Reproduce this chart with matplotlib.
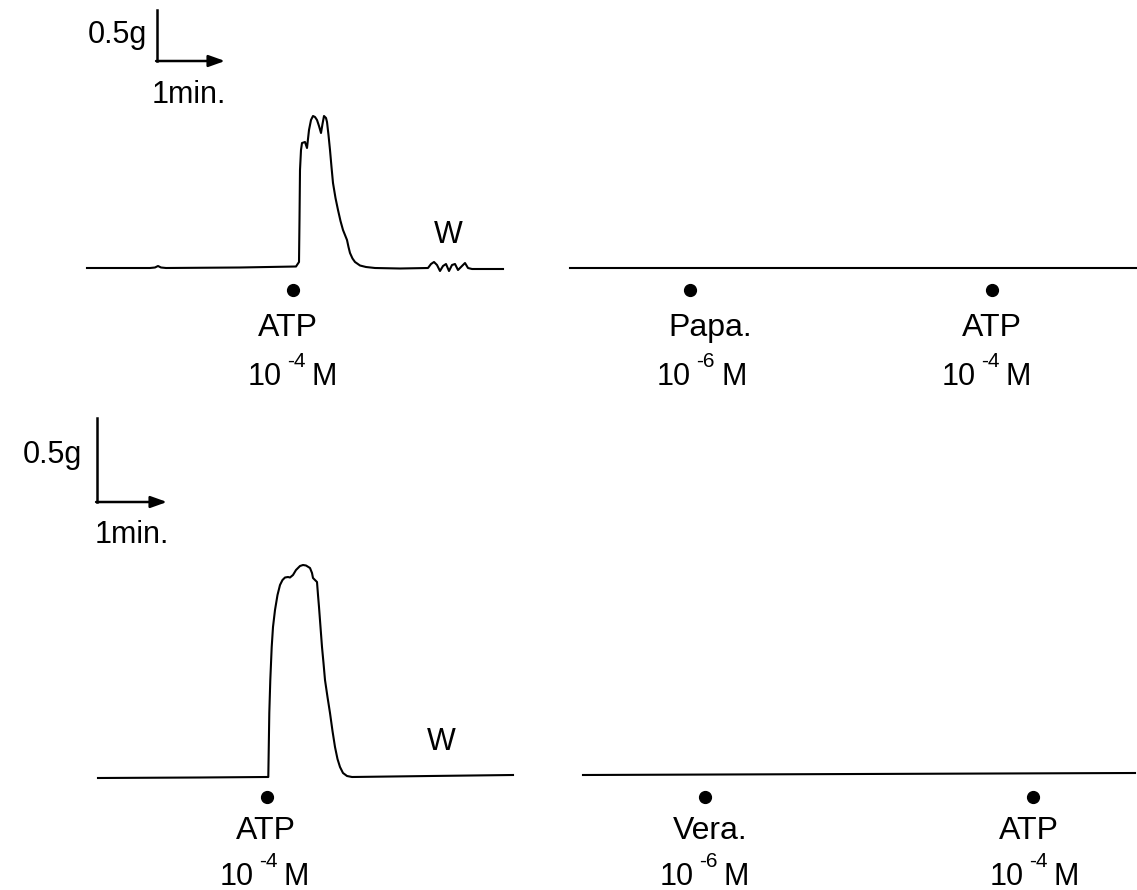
import matplotlib.pyplot as plt

plt.rcParams['font.family'] = ['Liberation Sans', 'DejaVu Sans']

# --- recorded tension traces (page units, y grows downward) ---
top_left_t = [87, 150, 155, 158, 161, 166, 240, 296, 299, 299.5,
              300, 301, 302, 305, 307, 309, 311, 313, 315, 317,
              319, 321, 322.5, 324, 326, 327, 328.5, 330, 331.5, 333,
              335.5, 338, 340.5, 343, 345, 347, 348.5, 350, 352.5, 355,
              360, 366, 375, 400, 428, 431, 434, 437, 440, 443,
              446, 449, 452, 455, 458, 462, 465, 468, 472, 503]
top_left_f = [268, 268, 267.5, 266, 267.5, 268, 267.5, 266.5, 262, 220,
              170, 150, 143, 142, 148, 130, 120, 116, 117, 120,
              126, 133, 124, 116, 118, 122, 135, 150, 167, 183,
              198, 210, 221, 230, 235, 240, 247, 253, 258.5, 262,
              265.5, 267, 268, 268.5, 268, 264, 262, 265, 271, 266,
              264, 271, 265, 264, 270, 266, 263, 268, 269, 269]

top_right_t = [570, 1137]
top_right_f = [268, 268]

bot_left_t = [98, 200, 266, 268.3, 268.8, 269.3, 270.3, 271.7, 273, 275,
              277.5, 280, 282.5, 285, 288, 290, 293, 296, 300, 303,
              306, 310, 312, 313, 317, 318, 319, 320.5, 322, 323.5,
              325, 327.5, 330, 332.5, 335, 337.5, 340, 343, 347, 352,
              430, 513]
bot_left_f = [778, 777.5, 777, 777, 745, 713, 680, 647, 627, 610,
              595, 585, 580, 577.5, 577, 577.5, 575, 570, 566, 565,
              565.5, 568, 573, 578, 582, 595, 607, 627, 647, 663,
              680, 697, 713, 731, 747, 759, 767, 773, 776, 777,
              776, 775]

bot_right_t = [583, 1135]
bot_right_f = [775, 773]

# drug additions
top_events = [293, 690, 992]
top_drugs = ['ATP', 'Papa.', 'ATP']
top_exps = ['-4', '-6', '-4']
bot_events = [267, 705, 1033]
bot_drugs = ['ATP', 'Vera.', 'ATP']
bot_exps = ['-4', '-6', '-4']

# layout
top_name_x = [288, 710, 992]
top_conc_x = [248, 657, 942]
bot_name_x = [266, 710, 1029]
bot_conc_x = [220, 660, 990]

fig = plt.figure(figsize=(11.37, 8.90), dpi=100)
ax = fig.add_axes([0, 0, 1, 1])
ax.set_xlim(0, 1137)
ax.set_ylim(890, 0)
ax.axis('off')

lw = 1.5
ax.plot(top_left_t, top_left_f, color='k', lw=lw)
ax.plot(top_right_t, top_right_f, color='k', lw=lw)
ax.plot(bot_left_t, bot_left_f, color='k', lw=lw)
ax.plot(bot_right_t, bot_right_f, color='k', lw=lw)

fs = 22


def scale_bar(x0, y0, h, w, tx_g, ty_g, tx_m, ty_m):
    ax.plot([x0, x0], [y0 - h, y0], color='k', lw=1.8)
    ax.annotate('', xy=(x0 + w, y0), xytext=(x0 - 0.9, y0),
                arrowprops=dict(arrowstyle='-|>,head_length=0.7,head_width=0.25',
                                lw=1.8, color='k', mutation_scale=14,
                                shrinkA=0, shrinkB=0))
    ax.text(tx_g, ty_g, '0.5g', fontsize=fs, ha='right', va='baseline')
    ax.text(tx_m, ty_m, '1min.', fontsize=fs, ha='left', va='baseline')


def dose_labels(events, drugs, exps, name_x, conc_x, dot_y, name_y, conc_y):
    ax.plot(events, [dot_y] * len(events), 'o', color='k', ms=8.5, ls='none')
    for nx, cx, d, e in zip(name_x, conc_x, drugs, exps):
        ax.text(nx, name_y, d, fontsize=23, ha='center', va='baseline')
        ax.text(cx, conc_y, '10', fontsize=fs, ha='left', va='baseline')
        ax.text(cx + 39, conc_y - 18, e, fontsize=15, ha='left', va='baseline')
        ax.text(cx + 64, conc_y, 'M', fontsize=fs, ha='left', va='baseline')


scale_bar(157, 61, 51, 68, 147, 43, 152, 103)
scale_bar(97, 502, 84, 70, 82, 463, 95, 543)

dose_labels(top_events, top_drugs, top_exps, top_name_x, top_conc_x, 290, 336, 385)
dose_labels(bot_events, bot_drugs, bot_exps, bot_name_x, bot_conc_x, 797, 839, 885)

ax.text(448, 243, 'W', fontsize=fs, ha='center', va='baseline')
ax.text(441, 750, 'W', fontsize=fs, ha='center', va='baseline')

fig.savefig('out.png', dpi=100)
